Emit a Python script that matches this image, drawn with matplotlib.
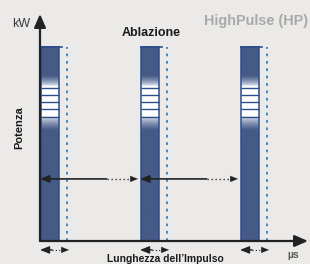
import numpy as np
import matplotlib
matplotlib.use('Agg')
import matplotlib.pyplot as plt
from matplotlib.colors import LinearSegmentedColormap

plt.rcParams['font.family'] = ['Liberation Sans', 'DejaVu Sans']

# dati dello schema (unita' arbitrarie)
pulse_start = [1, 101, 201]        # inizio di ogni impulso (us)
pulse_width = 18                   # durata impulso
pulse_power = 100                  # potenza di picco (kW)
tail_len = 26                      # fine della coda tratteggiata dopo l'inizio
fade_top = [85, 79.5]              # sfumatura scuro -> bianco
stripes = [79, 75.3, 71.6, 68, 64] # righe orizzontali nella zona bianca
fade_bot = [64, 57]                # sfumatura bianco -> scuro
period_y = 32                      # quota delle frecce del periodo
xmax, ymax = 268, 117

bg = '#eceae8'
bar_col = '#465a86'
edge_col = '#2b4d8c'
dot_col = '#3d89c9'
ink = '#222222'

fig = plt.figure(figsize=(3.10, 2.64), dpi=100, facecolor=bg)
ax = fig.add_axes([40/310, 23/264, 268/310, 227/264])
ax.set_xlim(0, xmax)
ax.set_ylim(0, ymax)
ax.axis('off')

# profilo verticale della barra (1 = scuro, 0 = bianco)
yy = np.linspace(0, pulse_power, 400)
prof = np.ones_like(yy)
m1 = (yy <= fade_top[0]) & (yy >= fade_top[1])
prof[m1] = (yy[m1] - fade_top[1]) / (fade_top[0] - fade_top[1])
prof[(yy < fade_top[1]) & (yy > fade_bot[0])] = 0
m2 = (yy <= fade_bot[0]) & (yy >= fade_bot[1])
prof[m2] = (fade_bot[0] - yy[m2]) / (fade_bot[0] - fade_bot[1])
prof = prof ** 0.7
cmap = LinearSegmentedColormap.from_list('bar', ['#ffffff', '#9aa6c0', bar_col])

for s in pulse_start:
    ax.imshow(prof[::-1, None], extent=[s, s + pulse_width, 0, pulse_power],
              aspect='auto', cmap=cmap, vmin=0, vmax=1, zorder=2)
    ax.plot([s, s], [0, pulse_power], color=edge_col, lw=1.1, zorder=3)
    ax.plot([s + pulse_width, s + pulse_width], [0, pulse_power], color=edge_col, lw=1.1, zorder=3)
    ax.plot([s, s + pulse_width + 3], [pulse_power, pulse_power], color=edge_col, lw=1.2, zorder=3)
    ax.hlines(stripes, s, s + pulse_width, color=edge_col, lw=1.0, zorder=3)
    # linea tratteggiata di fine impulso
    ax.plot([s + tail_len, s + tail_len], [0, pulse_power], color=dot_col, lw=1.4,
            linestyle=(0, (1.4, 2.4)), zorder=2)

head = '-|>,head_length=0.55,head_width=0.22'

def split_arrow(x0, x1, y, frac, lw=1.2):
    xm = x0 + (x1 - x0) * frac
    ax.annotate('', xy=(x0, y), xytext=(xm, y), annotation_clip=False,
                arrowprops=dict(arrowstyle=head, color=ink, lw=lw, shrinkA=0, shrinkB=0))
    ax.plot([xm, x1 - 4], [y, y], color=ink, lw=lw * 0.8, linestyle=(0, (1, 2)),
            clip_on=False, zorder=4)
    ax.annotate('', xy=(x1, y), xytext=(x1 - 6, y), annotation_clip=False,
                arrowprops=dict(arrowstyle=head, color=ink, lw=0.1, shrinkA=0, shrinkB=0))

# frecce del periodo di ripetizione
for a, b in zip(pulse_start[:-1], pulse_start[1:]):
    split_arrow(a - 1, b - 3, period_y, 0.68)

# frecce della lunghezza dell'impulso (sotto l'asse)
for s in pulse_start:
    split_arrow(s - 1, s + tail_len + 2, -4.6, 0.42, lw=1.0)

# assi con freccia
axis_head = '-|>,head_length=0.8,head_width=0.35'
ax.annotate('', xy=(xmax, 0), xytext=(0, 0), annotation_clip=False,
            arrowprops=dict(arrowstyle=axis_head, color=ink, lw=1.6, shrinkA=0, shrinkB=0),
            zorder=5)
ax.annotate('', xy=(0, ymax), xytext=(0, 0), annotation_clip=False,
            arrowprops=dict(arrowstyle=axis_head, color=ink, lw=1.6, shrinkA=0, shrinkB=0),
            zorder=5)

W, H = 310, 264
def ftxt(x, y, s, **kw):
    fig.text(x / W, 1 - y / H, s, ha='center', va='center', **kw)

ftxt(21, 24, 'kW', fontsize=9, color='#3a3a3a')
ftxt(151, 33, 'Ablazione', fontsize=9, fontweight='bold', color='#1a1a1a')
ftxt(256, 20.5, 'HighPulse (HP)', fontsize=10.4, fontweight='bold', color='#a9a9a9')
ftxt(19, 128, 'Potenza', fontsize=8, fontweight='bold', rotation=90, color='#1a1a1a')
ftxt(165, 259, "Lunghezza dell\u2019Impulso", fontsize=7.4, fontweight='bold', color='#1a1a1a')
ftxt(293, 254.5, '\u00b5s', fontsize=7.5, fontweight='bold', color='#555555')

fig.savefig('out.png', dpi=100, facecolor=bg)
